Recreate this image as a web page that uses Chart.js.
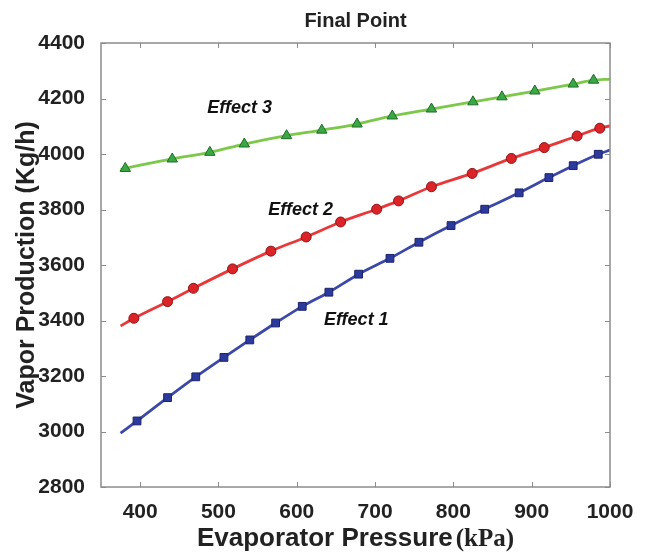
<!DOCTYPE html>
<html>
<head>
<meta charset="utf-8">
<script src="https://cdn.jsdelivr.net/npm/chart.js@4.4.1/dist/chart.umd.min.js"></script>
<style>
body { margin: 0; background: #fff; }
</style>
</head>
<body>
<canvas id="myChart" width="646" height="557"></canvas>
<script>
// values (first and last entries are the curve ends, no marker)
let pressureEffect1 = [375, 396, 435, 471, 507, 540, 573, 607, 641, 679, 719, 756, 797, 840, 884, 922, 953, 985, 1000];
let vaporEffect1 = [2994, 3038, 3122, 3197, 3267, 3330, 3391, 3451, 3502, 3567, 3624, 3682, 3742, 3801, 3860, 3915, 3958, 3999, 4014];

let pressureEffect2 = [375, 392, 435, 468, 518, 567, 612, 656, 702, 730, 772, 824, 874, 916, 958, 987, 1000];
let vaporEffect2 = [3380, 3408, 3468, 3516, 3586, 3650, 3701, 3755, 3801, 3831, 3882, 3930, 3984, 4023, 4065, 4093, 4101];

let pressureEffect3 = [375, 381, 441, 489, 533, 587, 632, 677, 722, 772, 825, 862, 904, 953, 979, 1000];
let vaporEffect3 = [3944, 3948, 3982, 4006, 4036, 4066, 4086, 4108, 4137, 4162, 4188, 4206, 4227, 4252, 4266, 4270];

let xTicks = [400, 500, 600, 700, 800, 900, 1000];
let yTicks = [2800, 3000, 3200, 3400, 3600, 3800, 4000, 4200, 4400];

let effectNames = ['Effect 1', 'Effect 2', 'Effect 3'];
let labelPressure = [676, 605, 527];
let labelVapor = [3402, 3798, 4166];

const SANS = '"Liberation Sans", Arial, sans-serif';

function toPoints(xs, ys) {
    return xs.map((v, i) => ({x: v, y: ys[i]}));
}

function markerRadius(r) {
    return function(ctx) {
        const n = ctx.dataset.data.length;
        return (ctx.dataIndex === 0 || ctx.dataIndex === n - 1) ? 0 : r;
    };
}

const frameAndText = {
    id: 'frameAndText',
    afterDatasetsDraw(chart) {
        const ctx = chart.ctx;
        const a = chart.chartArea;
        const x = chart.scales.x, y = chart.scales.y;
        ctx.save();
        // box
        ctx.strokeStyle = '#8c8c8c';
        ctx.lineWidth = 1.5;
        ctx.strokeRect(a.left, a.top, a.right - a.left, a.bottom - a.top);
        // inward ticks on all sides
        ctx.lineWidth = 1;
        ctx.beginPath();
        xTicks.forEach(v => {
            const px = Math.round(x.getPixelForValue(v)) + 0.5;
            ctx.moveTo(px, a.bottom); ctx.lineTo(px, a.bottom - 5);
            ctx.moveTo(px, a.top); ctx.lineTo(px, a.top + 5);
        });
        yTicks.forEach(v => {
            const py = Math.round(y.getPixelForValue(v)) + 0.5;
            ctx.moveTo(a.left, py); ctx.lineTo(a.left + 5, py);
            ctx.moveTo(a.right, py); ctx.lineTo(a.right - 5, py);
        });
        ctx.stroke();
        // curve labels
        ctx.fillStyle = '#111';
        ctx.font = 'italic bold 18px ' + SANS;
        ctx.textAlign = 'center';
        ctx.textBaseline = 'middle';
        effectNames.forEach((t, i) => {
            ctx.fillText(t, x.getPixelForValue(labelPressure[i]), y.getPixelForValue(labelVapor[i]));
        });
        // x axis title, sans part + serif unit
        const part1 = 'Evaporator Pressure';
        const part2 = '(kPa)';
        const f1 = 'bold 26px ' + SANS;
        const f2 = 'bold 25px "Liberation Serif", "Times New Roman", serif';
        ctx.font = f1;
        const w1 = ctx.measureText(part1).width;
        ctx.font = f2;
        const w2 = ctx.measureText(part2).width;
        const gap = 3;
        const cx = (a.left + a.right) / 2;
        const startX = cx - (w1 + gap + w2) / 2;
        const base = a.bottom + 59;
        ctx.textAlign = 'left';
        ctx.textBaseline = 'alphabetic';
        ctx.fillStyle = '#222';
        ctx.font = f1;
        ctx.fillText(part1, startX, base);
        ctx.font = f2;
        ctx.fillText(part2, startX + w1 + gap, base);
        ctx.restore();
    }
};

let chartElement = document.getElementById('myChart').getContext('2d');

let myChart = new Chart(chartElement, {
    type: 'line',
    data: {
        datasets: [{
            label: 'Effect 1',
            data: toPoints(pressureEffect1, vaporEffect1),
            borderColor: '#3c48a8',
            borderWidth: 2.8,
            pointStyle: 'rect',
            pointRadius: markerRadius(5.5),
            pointBackgroundColor: '#2c3a9e',
            pointBorderColor: '#1a2268',
            pointBorderWidth: 1,
            cubicInterpolationMode: 'monotone'
        }, {
            label: 'Effect 2',
            data: toPoints(pressureEffect2, vaporEffect2),
            borderColor: '#e8383a',
            borderWidth: 2.8,
            pointStyle: 'circle',
            pointRadius: markerRadius(5),
            pointBackgroundColor: '#dc2428',
            pointBorderColor: '#8a1518',
            pointBorderWidth: 1,
            cubicInterpolationMode: 'monotone'
        }, {
            label: 'Effect 3',
            data: toPoints(pressureEffect3, vaporEffect3),
            borderColor: '#7cc84a',
            borderWidth: 2.8,
            pointStyle: 'triangle',
            pointRadius: markerRadius(6),
            pointBackgroundColor: '#3aa845',
            pointBorderColor: '#1f6a28',
            pointBorderWidth: 1,
            cubicInterpolationMode: 'monotone'
        }]
    },
    options: {
        responsive: false,
        animation: false,
        events: [],
        layout: { padding: { left: 0, right: 36, top: 0, bottom: 0 } },
        plugins: {
            legend: { display: false },
            tooltip: { enabled: false },
            title: {
                display: true,
                text: 'Final Point',
                fullSize: false,
                color: '#222',
                font: { family: SANS, size: 20, weight: 'bold' },
                padding: { top: 9, bottom: 10 }
            }
        },
        scales: {
            x: {
                type: 'linear',
                min: 350,
                max: 1000,
                grid: { display: false },
                border: { display: false },
                afterBuildTicks: s => { s.ticks = xTicks.map(v => ({value: v})); },
                afterFit: s => { s.height = 70; },
                ticks: {
                    color: '#222',
                    padding: 5,
                    maxRotation: 0,
                    callback: v => String(v),
                    font: { family: SANS, size: 21, weight: 'bold' }
                }
            },
            y: {
                type: 'linear',
                min: 2800,
                max: 4400,
                grid: { display: false },
                border: { display: false },
                afterBuildTicks: s => { s.ticks = yTicks.map(v => ({value: v})); },
                afterFit: s => { s.width = 101; },
                ticks: {
                    color: '#222',
                    padding: 8,
                    callback: v => String(v),
                    font: { family: SANS, size: 21, weight: 'bold' }
                },
                title: {
                    display: true,
                    text: 'Vapor Production (Kg/h)',
                    color: '#222',
                    font: { family: SANS, size: 25, weight: 'bold' },
                    padding: { top: 12, bottom: 0 }
                }
            }
        }
    },
    plugins: [frameAndText]
});
</script>
</body>
</html>
